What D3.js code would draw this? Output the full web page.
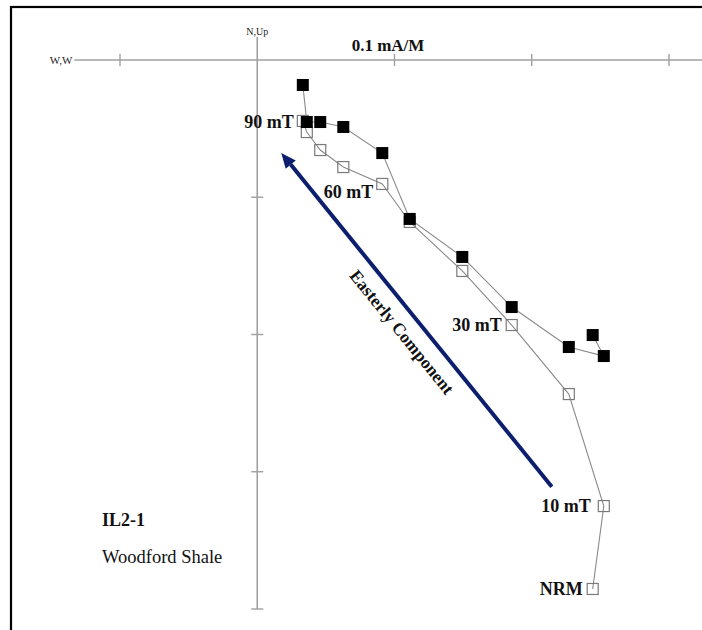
<!DOCTYPE html>
<html>
<head>
<meta charset="utf-8">
<script src="https://cdn.jsdelivr.net/npm/d3@7"></script>
<style>
  html, body { margin: 0; padding: 0; background: #fff; }
  svg { display: block; }
  text { font-family: "Liberation Serif", "DejaVu Serif", serif; }
</style>
</head>
<body>
<svg id="chart" width="702" height="630"></svg>
<script>
// ---- data (mA/M), demagnetization steps NRM ... 100 mT ----
const steps = ["NRM", "10 mT", "20 mT", "30 mT", "40 mT", "50 mT", "60 mT", "70 mT", "80 mT", "90 mT", "100 mT"];
const east  = [0.2444, 0.2525, 0.2270, 0.1854, 0.1494, 0.1111, 0.0911, 0.0627, 0.0459, 0.0361, 0.0332];
const north = [-0.2004, -0.2157, -0.2091, -0.1800, -0.1435, -0.1158, -0.0678, -0.0488, -0.0452, -0.0452, -0.0182];
const up    = [-0.3854, -0.3250, -0.2434, -0.1931, -0.1537, -0.1180, -0.0903, -0.0780, -0.0656, -0.0525, -0.0444];
const labelNames = ["NRM", "10 mT", "30 mT", "60 mT", "90 mT"];
const labelSteps = [0, 1, 3, 6, 10];
const xTicks = [-0.1, 0.1, 0.2, 0.3];
const yTicks = [-0.1, -0.2, -0.3, -0.4];
const arrowFrom = [0.2146, -0.3109];
const arrowTo   = [0.0175, -0.0677];

const svg = d3.select("#chart");
const x = d3.scaleLinear().domain([-0.1, 0.3]).range([120, 669]);
const y = d3.scaleLinear().domain([0, -0.4]).range([60, 609]);

// frame
svg.append("rect").attr("x", 11).attr("y", 7).attr("width", 800).attr("height", 800)
  .attr("fill", "none").attr("stroke", "#000").attr("stroke-width", 2.2);

const axisColor = "#a0a0a0";
// horizontal axis
svg.append("line").attr("x1", x(-0.1333)).attr("x2", 702).attr("y1", y(0)).attr("y2", y(0))
  .attr("stroke", axisColor).attr("stroke-width", 1.6);
svg.selectAll(".xt").data(xTicks).join("line")
  .attr("x1", d => x(d)).attr("x2", d => x(d))
  .attr("y1", y(0) - 6).attr("y2", y(0) + 6)
  .attr("stroke", axisColor).attr("stroke-width", 1.4);
// vertical axis
svg.append("line").attr("x1", x(0)).attr("x2", x(0)).attr("y1", 37).attr("y2", y(-0.4))
  .attr("stroke", axisColor).attr("stroke-width", 1.6);
svg.selectAll(".yt").data(yTicks).join("line")
  .attr("x1", x(0) - 6).attr("x2", x(0) + 6)
  .attr("y1", d => y(d)).attr("y2", d => y(d))
  .attr("stroke", axisColor).attr("stroke-width", 1.4);

// axis labels
svg.append("text").attr("x", x(-0.1333) - 2).attr("y", y(0) + 3.5).attr("text-anchor", "end")
  .attr("font-size", 11).attr("fill", "#222").text("W,W");
svg.append("text").attr("x", x(0)).attr("y", 35).attr("text-anchor", "middle")
  .attr("font-size", 10).attr("fill", "#222").text("N,Up");
svg.append("text").attr("x", 388).attr("y", 51).attr("text-anchor", "middle")
  .attr("font-size", 17).attr("font-weight", "bold").attr("fill", "#111").text("0.1 mA/M");

// connecting lines
const lineN = d3.line().x((d, i) => x(east[i])).y((d, i) => y(north[i]));
const lineU = d3.line().x((d, i) => x(east[i])).y((d, i) => y(up[i]));
svg.append("path").attr("d", lineU(steps)).attr("fill", "none").attr("stroke", "#8a8a8a").attr("stroke-width", 1.1);
svg.append("path").attr("d", lineN(steps)).attr("fill", "none").attr("stroke", "#8a8a8a").attr("stroke-width", 1.1);

// open squares (vertical projection)
const so = 11;
svg.selectAll(".open").data(steps).join("rect")
  .attr("x", (d, i) => x(east[i]) - so / 2).attr("y", (d, i) => y(up[i]) - so / 2)
  .attr("width", so).attr("height", so)
  .attr("fill", "none").attr("stroke", "#7a7a7a").attr("stroke-width", 1.2);

// filled squares (horizontal projection)
const sf = 12;
svg.selectAll(".filled").data(steps).join("rect")
  .attr("x", (d, i) => x(east[i]) - sf / 2).attr("y", (d, i) => y(north[i]) - sf / 2)
  .attr("width", sf).attr("height", sf)
  .attr("fill", "#000");

// step labels
const labelOffset = { "NRM": [-10, 0], "10 mT": [-13, 0], "30 mT": [-10, 0], "60 mT": [-9, 8], "90 mT": [-9, 1] };
svg.selectAll(".lbl").data(labelNames).join("text")
  .attr("x", (d, i) => x(east[labelSteps[i]]) + labelOffset[d][0])
  .attr("y", (d, i) => y(up[labelSteps[i]]) + labelOffset[d][1])
  .attr("dy", "0.35em").attr("text-anchor", "end")
  .attr("font-size", 18).attr("font-weight", "bold").attr("fill", "#111")
  .text(d => d);

// arrow
const navy = "#0c1f6e";
const ax1 = x(arrowFrom[0]), ay1 = y(arrowFrom[1]), ax2 = x(arrowTo[0]), ay2 = y(arrowTo[1]);
const ang = Math.atan2(ay2 - ay1, ax2 - ax1);
const headLen = 15, headW = 6.5;
const bx = ax2 - headLen * Math.cos(ang), by = ay2 - headLen * Math.sin(ang);
svg.append("line").attr("x1", ax1).attr("y1", ay1).attr("x2", bx).attr("y2", by)
  .attr("stroke", navy).attr("stroke-width", 4);
svg.append("path")
  .attr("d", `M${ax2},${ay2} L${bx - headW * Math.sin(ang)},${by + headW * Math.cos(ang)} L${bx + headW * Math.sin(ang)},${by - headW * Math.cos(ang)} Z`)
  .attr("fill", navy);

const deg = Math.atan2(ay1 - ay2, ax1 - ax2) * 180 / Math.PI;
svg.append("text")
  .attr("transform", `translate(${402},${332}) rotate(${deg})`)
  .attr("text-anchor", "middle").attr("dy", "0.35em")
  .attr("font-size", 17.5).attr("font-weight", "bold").attr("fill", "#111")
  .text("Easterly Component");

// sample info
svg.append("text").attr("x", 102).attr("y", 526)
  .attr("font-size", 18).attr("font-weight", "bold").attr("fill", "#111").text("IL2-1");
svg.append("text").attr("x", 102).attr("y", 563)
  .attr("font-size", 18.5).attr("fill", "#111").text("Woodford Shale");
</script>
</body>
</html>
